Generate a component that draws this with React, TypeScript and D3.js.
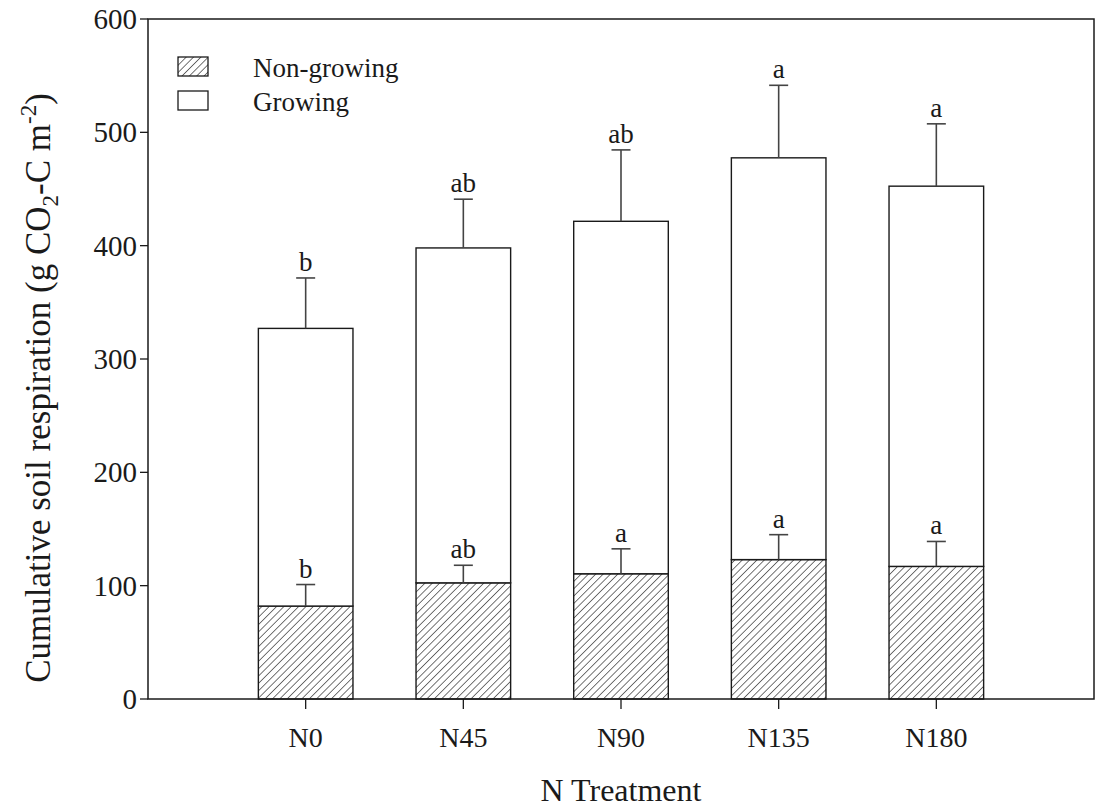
import React from "react";
import * as d3 from "d3";

// Treatments and cumulative soil respiration (g CO2-C m-2)
const treatments = ["N0", "N45", "N90", "N135", "N180"];
const nonGrowing = [82, 102.5, 110.5, 123, 117];
const growing = [245, 295.5, 311, 354.5, 335.5];
const nonGrowingErr = [19, 15.5, 22, 22, 22];
const totalErr = [44.5, 43, 63, 64, 55];
const nonGrowingLetters = ["b", "ab", "a", "a", "a"];
const totalLetters = ["b", "ab", "ab", "a", "a"];
const yTicks = [0, 100, 200, 300, 400, 500, 600];

const W = 1099;
const H = 807;
const FONT = "'Liberation Serif', 'Times New Roman', serif";
const INK = "#1a1a1a";

export default function App() {
  const x = d3.scaleLinear().domain([0, 6]).range([148, 1094]);
  const y = d3.scaleLinear().domain([0, 600]).range([699, 19]);
  const half = x(0.3) - x(0);
  const capHalf = 9.5;

  const rows = treatments.map((t, i) => ({
    treatment: t,
    nonGrowing: nonGrowing[i],
    growing: growing[i],
  }));
  const stacked = d3.stack<any>().keys(["nonGrowing", "growing"])(rows);

  return (
    <svg
      width={W}
      height={H}
      style={{ position: "absolute", left: 0, top: 0, background: "#fff" }}
      fontFamily={FONT}
    >
      <defs>
        <pattern
          id="hatch"
          patternUnits="userSpaceOnUse"
          width={5.2}
          height={5.2}
          patternTransform="rotate(45)"
        >
          <line x1={0} y1={0} x2={0} y2={5.2} stroke={INK} strokeWidth={1.2} />
        </pattern>
      </defs>
      <rect x={0} y={0} width={W} height={H} fill="#fff" />

      {/* stacked bars */}
      {stacked.map((layer, li) =>
        layer.map((d, i) => {
          const cx = x(i + 1);
          return (
            <rect
              key={`${li}-${i}`}
              x={cx - half}
              y={y(d[1])}
              width={half * 2}
              height={y(d[0]) - y(d[1])}
              fill={li === 0 ? "url(#hatch)" : "#fff"}
              stroke={INK}
              strokeWidth={1.4}
            />
          );
        })
      )}

      {/* error bars and significance letters */}
      {treatments.map((t, i) => {
        const cx = x(i + 1);
        const ng = nonGrowing[i];
        const tot = nonGrowing[i] + growing[i];
        const ngTop = y(ng + nonGrowingErr[i]);
        const totTop = y(tot + totalErr[i]);
        return (
          <g key={t} stroke="#444" strokeWidth={1.6}>
            <line x1={cx} x2={cx} y1={y(ng)} y2={ngTop} />
            <line x1={cx - capHalf} x2={cx + capHalf} y1={ngTop} y2={ngTop} />
            <line x1={cx} x2={cx} y1={y(tot)} y2={totTop} />
            <line x1={cx - capHalf} x2={cx + capHalf} y1={totTop} y2={totTop} />
            <text x={cx} y={ngTop - 7} textAnchor="middle" fontSize={27} fill={INK} stroke="none">
              {nonGrowingLetters[i]}
            </text>
            <text x={cx} y={totTop - 7} textAnchor="middle" fontSize={27} fill={INK} stroke="none">
              {totalLetters[i]}
            </text>
          </g>
        );
      })}

      {/* frame */}
      <rect
        x={x(0)}
        y={y(600)}
        width={x(6) - x(0)}
        height={y(0) - y(600)}
        fill="none"
        stroke={INK}
        strokeWidth={1.5}
      />

      {/* y axis */}
      {yTicks.map((v) => (
        <g key={v}>
          <line x1={x(0) - 8} x2={x(0)} y1={y(v)} y2={y(v)} stroke={INK} strokeWidth={1.3} />
          <text x={x(0) - 11} y={y(v)} dy="0.35em" textAnchor="end" fontSize={29} fill={INK}>
            {v}
          </text>
        </g>
      ))}

      {/* x axis */}
      {treatments.map((t, i) => (
        <g key={t}>
          <line x1={x(i + 1)} x2={x(i + 1)} y1={y(0)} y2={y(0) + 10} stroke={INK} strokeWidth={1.3} />
          <text x={x(i + 1)} y={747} textAnchor="middle" fontSize={28} fill={INK}>
            {t}
          </text>
        </g>
      ))}

      {/* axis titles */}
      <text x={(x(0) + x(6)) / 2} y={801} textAnchor="middle" fontSize={32} fill={INK}>
        N Treatment
      </text>
      <text
        transform={`translate(50, 388) rotate(-90)`}
        textAnchor="middle"
        fontSize={35}
        fill={INK}
      >
        Cumulative soil respiration (g CO
        <tspan fontSize={23} dy={8}>2</tspan>
        <tspan dy={-8}>-C m</tspan>
        <tspan fontSize={23} dy={-14}>-2</tspan>
        <tspan dy={14}>)</tspan>
      </text>

      {/* legend */}
      <rect x={178} y={57} width={30} height={19} fill="url(#hatch)" stroke={INK} strokeWidth={1.3} />
      <text x={253} y={77} fontSize={27} fill={INK}>Non-growing</text>
      <rect x={178} y={91} width={30} height={19} fill="#fff" stroke={INK} strokeWidth={1.3} />
      <text x={253} y={111} fontSize={27} fill={INK}>Growing</text>
    </svg>
  );
}
